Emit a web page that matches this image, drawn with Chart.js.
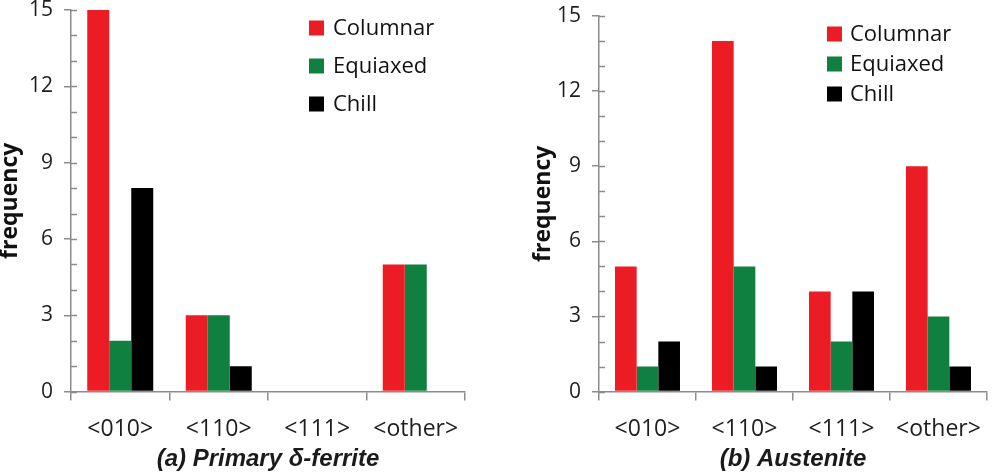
<!DOCTYPE html>
<html>
<head>
<meta charset="utf-8">
<script src="https://cdn.jsdelivr.net/npm/chart.js@4/dist/chart.umd.min.js"></script>
<style>
  html, body { margin: 0; padding: 0; background: #fff; }
  #wrap { position: relative; width: 993px; height: 476px; overflow: hidden; }
  .panel { position: absolute; top: 0; height: 476px; }
  #panelA { left: 0; width: 500px; }
  #panelB { left: 500px; width: 493px; }
</style>
</head>
<body>
<div id="wrap">
  <div class="panel" id="panelA"><canvas id="chartA"></canvas></div>
  <div class="panel" id="panelB"><canvas id="chartB"></canvas></div>
</div>
<script>
// Orientation categories shared by both panels
const categories = ['<010>', '<110>', '<111>', '<other>'];
const seriesNames = ['Columnar', 'Equiaxed', 'Chill'];

// (a) Primary delta-ferrite: grain counts per orientation
const ferriteColumnar = [15, 3, 0, 5];
const ferriteEquiaxed = [2, 3, 0, 5];
const ferriteChill = [8, 1, 0, 0];

// (b) Austenite: grain counts per orientation
const austeniteColumnar = [5, 14, 4, 9];
const austeniteEquiaxed = [1, 5, 2, 3];
const austeniteChill = [2, 1, 4, 1];

// Frequency axis
const yMin = 0;
const yMax = 15;
const yMajorStep = 3;
const yMinorStep = 1;

const seriesColors = ['#ec1c24', '#108040', '#000000'];
const axisColor = '#8c8c8c';
const textColor = '#1e1e1e';

// Small inward marks on the frequency axis at every unit
const minorTicks = {
  id: 'minorTicks',
  afterDraw(chart) {
    const y = chart.scales.y;
    const ctx = chart.ctx;
    const x0 = y.right;
    ctx.save();
    ctx.strokeStyle = axisColor;
    ctx.lineWidth = 1.5;
    ctx.beginPath();
    for (let v = yMin; v <= yMax; v += yMinorStep) {
      const py = Math.round(y.getPixelForValue(v)) + 0.5;
      ctx.moveTo(x0, py);
      ctx.lineTo(x0 + 6, py);
    }
    ctx.stroke();
    ctx.restore();
  }
};

// Legend drawn as a column of swatches inside the plot area
const sideKey = {
  id: 'sideKey',
  afterDraw(chart, args, opts) {
    const ctx = chart.ctx;
    ctx.save();
    ctx.font = opts.font;
    ctx.textBaseline = 'middle';
    ctx.textAlign = 'left';
    chart.data.datasets.forEach((ds, i) => {
      const cy = opts.y + i * opts.rowGap;
      ctx.fillStyle = ds.backgroundColor;
      ctx.fillRect(opts.x, cy - opts.box / 2, opts.box, opts.box);
      ctx.fillStyle = '#111';
      ctx.fillText(ds.label, opts.x + opts.box + opts.textGap, cy + 1);
    });
    ctx.restore();
  }
};

function makeChart(canvasId, values, title, geom) {
  const datasets = seriesNames.map((name, i) => ({
    label: name,
    data: values[i],
    backgroundColor: seriesColors[i],
    borderWidth: 0,
    categoryPercentage: 0.67,
    barPercentage: 1.0
  }));

  return new Chart(document.getElementById(canvasId), {
    type: 'bar',
    data: { labels: categories, datasets },
    plugins: [minorTicks, sideKey],
    options: {
      responsive: true,
      maintainAspectRatio: false,
      animation: false,
      events: [],
      layout: { padding: geom.padding },
      scales: {
        x: {
          grid: { drawOnChartArea: false, drawTicks: true, tickLength: 9, color: axisColor, lineWidth: 1.5 },
          border: { display: true, color: axisColor, width: 1.5 },
          ticks: {
            color: textColor,
            font: { family: 'Open Sans', size: 23 },
            padding: 15,
            maxRotation: 0,
            autoSkip: false
          },
          afterFit(s) {
            s.height = geom.xAxisHeight;
            s.paddingLeft = 0;
            s.paddingRight = 0;
          }
        },
        y: {
          min: yMin,
          max: yMax,
          grid: { drawOnChartArea: false, drawTicks: true, tickLength: 7, color: axisColor, lineWidth: 1.5 },
          border: { display: true, color: axisColor, width: 1.5 },
          ticks: {
            stepSize: yMajorStep,
            color: textColor,
            font: { family: 'Open Sans', size: 21 },
            padding: 11
          },
          title: {
            display: true,
            text: 'frequency',
            color: '#111',
            font: { family: 'Open Sans', size: 23, weight: 'bold', lineHeight: 0.9 },
            padding: { top: 0, bottom: 0 }
          },
          afterFit(s) {
            s.width = geom.yAxisWidth;
            s.paddingTop = 0;
            s.paddingBottom = 0;
          }
        }
      },
      plugins: {
        legend: { display: false },
        tooltip: { enabled: false },
        title: {
          display: true,
          position: 'bottom',
          fullSize: false,
          text: title,
          color: '#1a1a1a',
          font: { family: 'Liberation Sans', size: 24, weight: 'bold', style: 'italic', lineHeight: 1.1 },
          padding: { top: 0, bottom: 3 }
        },
        sideKey: geom.key
      }
    }
  });
}

makeChart('chartA', [ferriteColumnar, ferriteEquiaxed, ferriteChill], '(a) Primary δ-ferrite', {
  padding: { left: 0, right: 35, top: 10, bottom: 0 },
  yAxisWidth: 71,
  xAxisHeight: 55,
  key: { x: 309, y: 28, rowGap: 38, box: 15, textGap: 9, font: '22px "Open Sans"' }
});

makeChart('chartB', [austeniteColumnar, austeniteEquiaxed, austeniteChill], '(b) Austenite', {
  padding: { left: 33, right: 6, top: 16, bottom: 0 },
  yAxisWidth: 66,
  xAxisHeight: 55,
  key: { x: 327, y: 34, rowGap: 30, box: 15, textGap: 8, font: '22px "Open Sans"' }
});
</script>
</body>
</html>
